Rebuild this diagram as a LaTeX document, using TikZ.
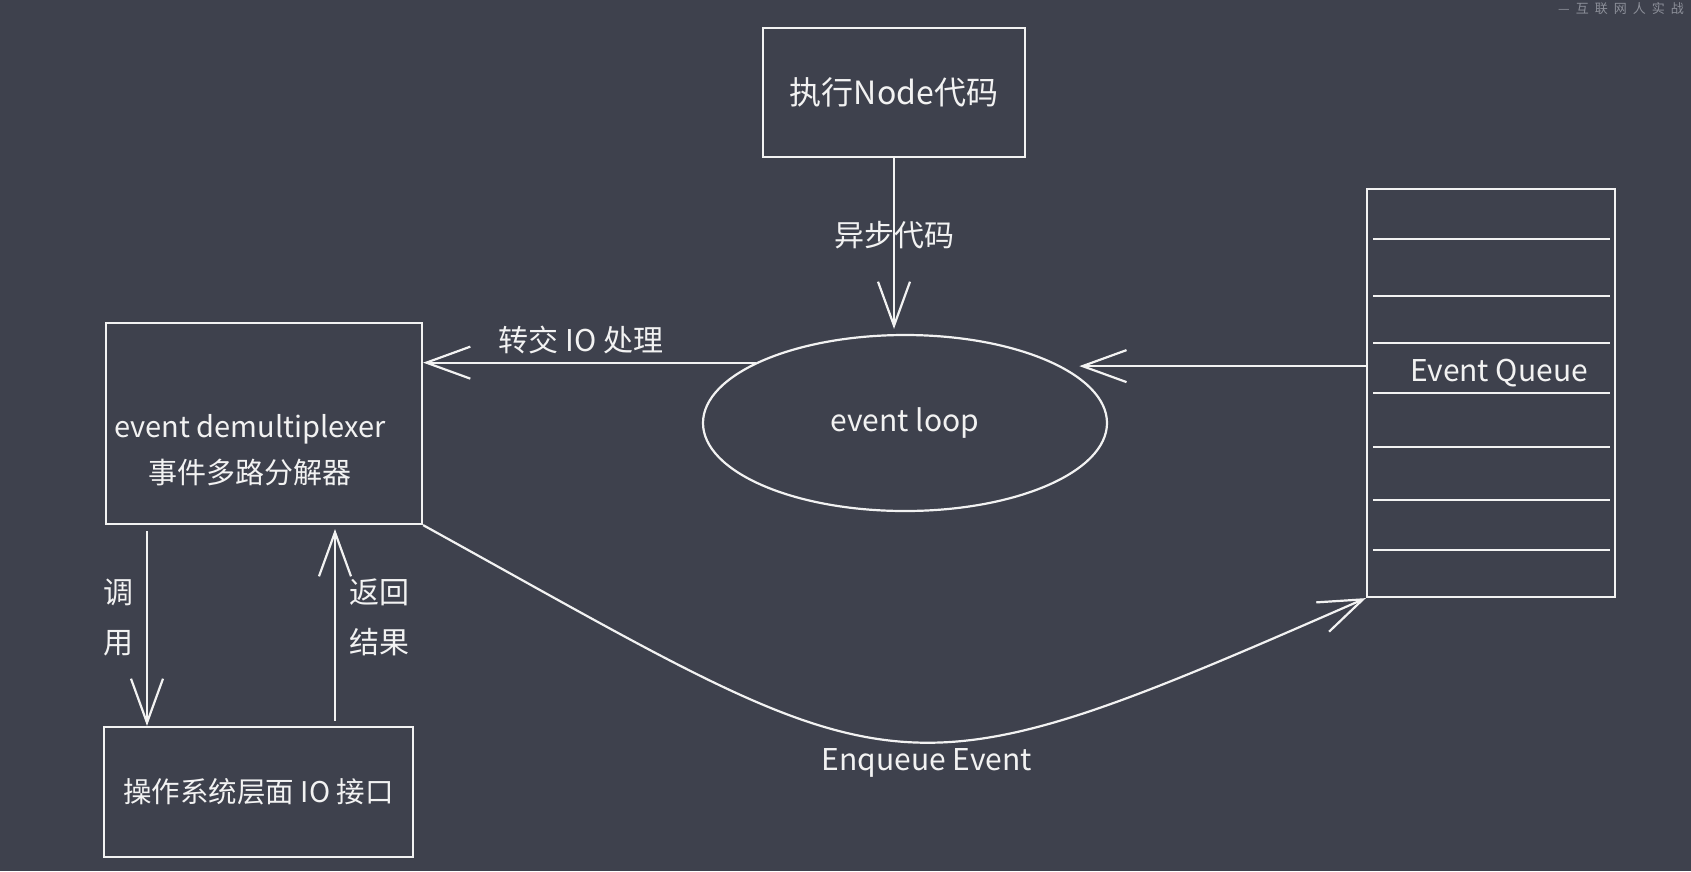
\documentclass[tikz,border=0pt]{standalone}
\usepackage{fontspec}
\setmainfont{Noto Sans CJK SC}
\usetikzlibrary{arrows.meta,shapes.geometric}
\definecolor{board}{RGB}{62,65,77}
\definecolor{chalk}{RGB}{242,242,242}
\definecolor{mark}{RGB}{140,143,153}

\begin{document}
\begin{tikzpicture}[x=1pt,y=-1pt,
    sketch/.style={draw=chalk,line width=2.2pt},
    box/.style={sketch,rectangle,inner sep=0pt,text=chalk,font=\fontsize{30}{46}\selectfont},
    lbl/.style={text=chalk,inner sep=0pt,align=center,font=\fontsize{30}{50}\selectfont},
    flow/.style={chalk,line width=2.2pt,-{Straight Barb[length=44pt,width=32pt]}}]
    \fill[board] (0,0) rectangle (1691,871);
    \useasboundingbox (0,0) rectangle (1691,871);

    \node[box,minimum width=262pt,minimum height=129pt,font=\fontsize{32}{38}\selectfont] (exec) at (894,92.5) {执行Node代码};
    \node[box,ellipse,minimum width=404pt,minimum height=176pt] (loop) at (905,423) {event loop};
    \node[box,minimum width=316pt,minimum height=201pt] (demux) at (264,423.5) {};
    \node[lbl,font=\fontsize{29}{46}\selectfont] (demuxtext) at (250,450) {event demultiplexer\\事件多路分解器};
    \node[box,minimum width=309pt,minimum height=130pt,font=\fontsize{28.5}{40}\selectfont] (os) at (258.5,792) {操作系统层面 IO 接口};
    \node[box,minimum width=248pt,minimum height=408pt] (queue) at (1491,393) {};
    \node[lbl] (queuetext) at (1499,373) {Event Queue};
    \foreach \y in {239,296,343,393,447,500,550}
        \draw[sketch] (1373,\y) -- (1610,\y);

    \draw[flow,shorten >=5pt] (exec.south) -- (exec.south |- loop.north);
    \draw[flow] (loop.158) -- (loop.158 -| demux.east);
    \draw[flow,shorten >=18pt] (loop.20 -| queue.west) -- (loop.20);
    \draw[flow,shorten <=6pt] ([xshift=-117pt]demux.south) -- ([xshift=-117pt]demux.south |- os.north);
    \draw[flow,shorten <=5pt,shorten >=4pt] ([xshift=71pt]demux.south |- os.north) -- ([xshift=71pt]demux.south);
    \draw[flow] (demux.south east) .. controls +(483,267) and +(-482,211) .. (queue.south west);

    \node[lbl] (asynclbl) at (894,235) {异步代码};
    \node[lbl] (handlbl) at (581,340) {转交 IO 处理};
    \node[lbl] (calllbl) at (118,617) {调\\用};
    \node[lbl] (retlbl) at (379,617) {返回\\结果};
    \node[lbl] (enqlbl) at (927,763) {Enqueue Event};
    \node[anchor=west,text=mark,inner sep=0pt,font=\fontsize{13}{13}\selectfont] (wmark) at (1558,9) {\spaceskip=6pt\relax — 互 联 网 人 实 战};
\end{tikzpicture}
\end{document}
